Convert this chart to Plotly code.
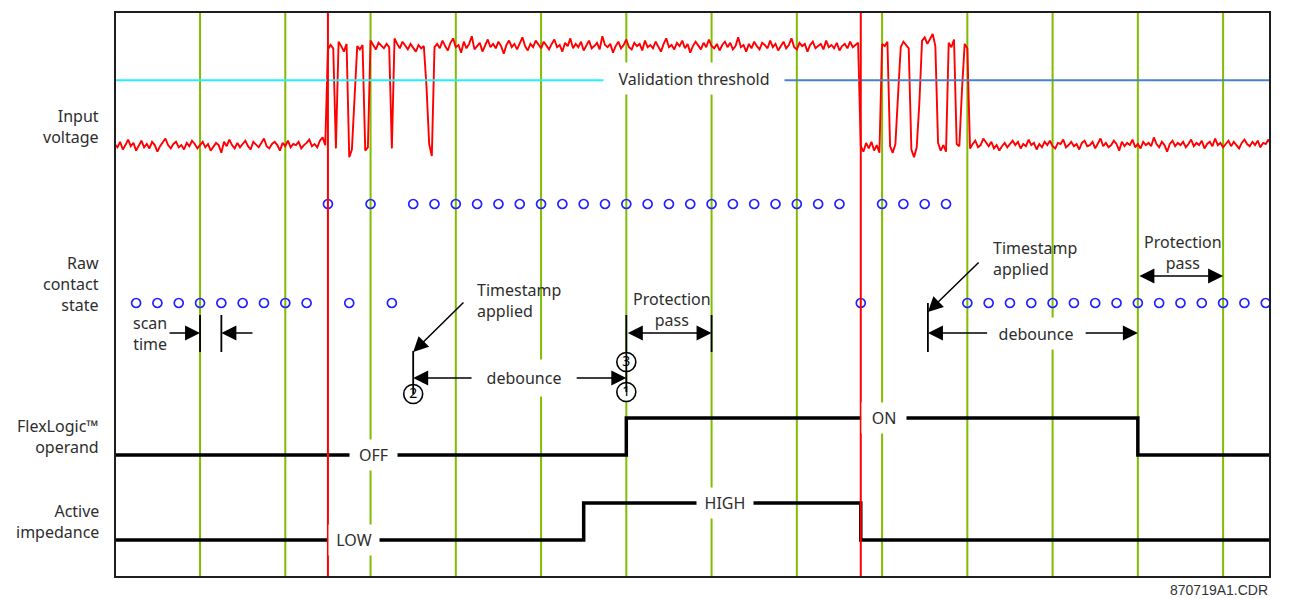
import plotly.graph_objects as go

# ---------------- data ----------------
# x unit: one contact scan (spacing of the blue sample dots)
X_MIN, X_MAX = 0.01, 54.2

scan_times = list(range(55))
raw_contact_state = [0, 0, 0, 0, 0, 0, 0, 0, 0, 0,
                     1, 0, 1, 0,
                     1, 1, 1, 1, 1, 1, 1, 1, 1, 1, 1, 1, 1, 1, 1, 1, 1, 1, 1, 1, 1,
                     0,
                     1, 1, 1, 1,
                     0, 0, 0, 0, 0, 0, 0, 0, 0, 0, 0, 0, 0, 0, 0]

protection_pass_times = [4, 8, 12, 16, 20, 24, 28, 32, 36, 40, 44, 48, 52]
voltage_change_times = [10, 35]

flexlogic_times = [0, 24, 48, 54.2]
flexlogic_state = [0, 1, 0, 0]
impedance_times = [0, 22, 35, 54.2]
impedance_state = [0, 1, 0, 0]

timestamp_times = [14, 38.15]
debounce_end_times = [24, 48]
scan_time_marks = [4, 5]

# input voltage (V), sampled every 1/8 scan
voltage_t0 = 0.0
voltage_dt = 0.125
voltage_low_before = [10, 7, 12, 5, 9, 14, 8, 11, 4, 9, 13, 7, 10, 6, 12, 9, 3, 8, 11, 15,
                      9, 6, 10, 12, 7, 9, 5, 11, 8, 13, 10, 6, 9, 12, 7, 10, 4, 8, 11, 9,
                      2, 12, 8, 14, 9, 6, 11, 7, 10, 13, 8, 5, 12, 9, 7, 11, 15, 8, 6, 10,
                      12, 9, 4, 11, 8, 13, 7, 10, 9, 12, 6, 9, 11, 14, 8, 10, 7, 13, 16, 9]
voltage_bounce_on = [96, 100, 97, 6, 103, 99, 94, 101, -2, 5, 52, 99, 96, 100, 4, 7,
                     104, 100, 96, 102, 99, 97, 101, 98, 6, 106, 101, 97, 103, 99, 96,
                     101, 98, 94, 100, 97, 99, 62, 10, -1, 98]
voltage_high = [101, 97, 104, 99, 95, 102, 106, 98, 100, 93, 103, 97, 101, 108, 96, 99, 102, 94, 100, 105,
                98, 101, 97, 103, 99, 92, 100, 104, 98, 101, 96, 102, 107, 99, 95, 101, 98, 104, 100, 97,
                103, 99, 96, 101, 105, 98, 100, 94, 102, 99, 106, 97, 101, 98, 103, 95, 100, 104, 97, 99,
                102, 96, 108, 100, 98, 101, 93, 99, 103, 97, 100, 105, 98, 96, 102, 99, 101, 95, 104, 98,
                100, 97, 103, 99, 94, 101, 106, 98, 100, 96, 102, 99, 104, 97, 101, 93, 99, 103, 100, 96,
                102, 98, 105, 99, 97, 101, 95, 100, 103, 98, 102, 96, 99, 107, 98, 100, 94, 101, 97, 103,
                99, 96, 102, 100, 97, 104, 98, 101, 95, 99, 103, 97, 100, 106, 98, 96, 102, 99, 101, 94,
                100, 103, 97, 99, 101, 96, 104, 98, 100, 97, 102, 95, 99, 101, 97, 103, 98, 100, 102]
voltage_bounce_off = [8, 3, 11, 6, 12, 4, 9, 2, 101, 99, 103, 8, 2, 10, 55, 98, 103, 100, 97,
                      5, -2, 7, 48, 104, 107, 101, 105, 110, 99, 11, 4, 9, 3, 102, 98, 105,
                      10, 8, 60, 101, 97]
voltage_low_after = [6, 10, 13, 7, 9, 15, 11, 8, 12, 6, 9, 4, 8, 11, 7, 10, 13, 9, 12, 6,
                     10, 8, 14, 9, 11, 5, 10, 7, 12, 9, 13, 8, 6, 11, 10, 14, 7, 9, 12, 8,
                     10, 5, 11, 13, 8, 9, 12, 6, 10, 15, 8, 11, 7, 9, 13, 10, 4, 12, 8, 11,
                     9, 14, 7, 10, 6, 12, 9, 11, 8, 16, 10, 7, 12, 9, 3, 10, 13, 8, 11, 9,
                     12, 7, 10, 14, 8, 11, 9, 13, 6, 10, 12, 8, 15, 9, 11, 7, 10, 13, 8, 12,
                     9, 6, 11, 14, 10, 8, 12, 9, 13, 7, 11, 10, 14, 9, 12]
validation_threshold = 68

# ---------------- styling ----------------
FONT = "Noto Sans"
TXT = "#2e2e2e"
GREEN = "#80bd00"
RED = "#ff0000"
BLUE_DOT = "#2222ff"
CYAN = "#22f0ff"
BLUE_LINE = "#4a82cc"

# lanes in diagram units (0 = bottom of frame, 565 = top)
CONTACT_Y = {0: 274, 1: 373}
FLEX_Y = {0: 122, 1: 159}
IMP_Y = {0: 37, 1: 74}

voltage = voltage_low_before + voltage_bounce_on + voltage_high + voltage_bounce_off + voltage_low_after
voltage_t = [voltage_t0 + i * voltage_dt for i in range(len(voltage))]

fig = go.Figure()

# input voltage
fig.add_trace(go.Scatter(x=voltage_t, y=voltage, mode="lines", yaxis="y2",
                         line=dict(color=RED, width=1.9), hoverinfo="skip"))
# validation threshold (cyan before / blue after the label)
thr_split = 27.18
fig.add_trace(go.Scatter(x=[X_MIN, thr_split], y=[validation_threshold] * 2, yaxis="y2", mode="lines",
                         line=dict(color=CYAN, width=2)))
fig.add_trace(go.Scatter(x=[thr_split, X_MAX], y=[validation_threshold] * 2, yaxis="y2", mode="lines",
                         line=dict(color=BLUE_LINE, width=2)))

# raw contact state samples
fig.add_trace(go.Scatter(x=scan_times, y=[CONTACT_Y[s] for s in raw_contact_state], mode="markers",
                         marker=dict(symbol="circle-open", size=9, color=BLUE_DOT, line=dict(width=1.7)),
                         cliponaxis=False))

# FlexLogic operand and active impedance
fig.add_trace(go.Scatter(x=flexlogic_times, y=[FLEX_Y[s] for s in flexlogic_state], mode="lines",
                         line=dict(color="black", width=3.5, shape="hv")))
fig.add_trace(go.Scatter(x=impedance_times, y=[IMP_Y[s] for s in impedance_state], mode="lines",
                         line=dict(color="black", width=3.5, shape="hv")))

shapes = []
for t in protection_pass_times:
    shapes.append(dict(type="line", xref="x", yref="paper", x0=t, x1=t, y0=0, y1=1,
                       line=dict(color=GREEN, width=2), layer="below"))
for t in voltage_change_times:
    shapes.append(dict(type="line", xref="x", yref="paper", x0=t, x1=t, y0=0, y1=1,
                       line=dict(color=RED, width=2), layer="above"))

def vbar(x, y0, y1, w=1.8):
    shapes.append(dict(type="line", xref="x", yref="y", x0=x, x1=x, y0=y0, y1=y1,
                       line=dict(color="black", width=w), layer="above"))

for t in scan_time_marks:
    vbar(t, 225, 262)
vbar(timestamp_times[0], 183, 226)
vbar(timestamp_times[1], 225, 274)
vbar(debounce_end_times[0], 185, 262)
vbar(debounce_end_times[0] + 4, 225, 262)

shapes.append(dict(type="rect", xref="paper", yref="paper", x0=0, x1=1, y0=0, y1=1,
                   line=dict(color="#1e1e1e", width=2), layer="above"))

# numbered circles
fig.add_trace(go.Scatter(x=[timestamp_times[0], debounce_end_times[0], debounce_end_times[0]],
                         y=[183, 215, 185], mode="markers+text", text=["2", "3", "1"],
                         textposition="middle center",
                         textfont=dict(family=FONT, size=14, color="black"),
                         marker=dict(size=19, color="white", line=dict(color="black", width=1.6)),
                         cliponaxis=False))

ann = []

def arrow(xh, yh, xt, yt, both=False):
    ann.append(dict(x=xh, y=yh, ax=xt, ay=yt, xref="x", yref="y", axref="x", ayref="y",
                    text="", showarrow=True, arrowhead=2, arrowsize=2.0, arrowwidth=1.5,
                    arrowcolor="black", arrowside="end+start" if both else "end"))

def label(x, y, text, xanchor="center", align="center", bg=None, w=None, h=None, size=16,
          xref="x", yref="y"):
    d = dict(x=x, y=y, xref=xref, yref=yref, text=text, showarrow=False, xanchor=xanchor,
             yanchor="middle", align=align, font=dict(family=FONT, size=size, color=TXT),
             borderpad=0)
    if bg:
        d["bgcolor"] = bg
    if w:
        d["width"] = w
    if h:
        d["height"] = h
    ann.append(d)

# scan time
arrow(scan_time_marks[0], 244, 2.5, 244)
arrow(scan_time_marks[1], 244, 6.53, 244)
label(1.66, 244, "scan<br>time")
# timestamps
arrow(timestamp_times[0], 225, 16.43, 276)
label(16.95, 277, "Timestamp<br>applied", xanchor="left", align="left")
arrow(timestamp_times[1], 265, 40.6, 316)
label(41.16, 319, "Timestamp<br>applied", xanchor="left", align="left")
# debounce
arrow(timestamp_times[0], 199, 16.81, 199)
arrow(debounce_end_times[0], 199, 21.6, 199)
label(19.2, 199, "debounce", bg="white", w=102, h=36)
arrow(timestamp_times[1], 244, 41.0, 244)
arrow(debounce_end_times[1], 244, 45.48, 244)
label(43.24, 244, "debounce", bg="white", w=96, h=31)
# protection pass
arrow(debounce_end_times[0] + 4, 244, debounce_end_times[0], 244, both=True)
label(26.15, 268, "Protection<br>pass")
arrow(debounce_end_times[1] + 4, 301, debounce_end_times[1], 301, both=True)
label(50.1, 325, "Protection<br>pass")
# state labels
label(12.16, FLEX_Y[0], "OFF", bg="white", w=47, h=30)
label(36.1, FLEX_Y[1], "ON", bg="white", w=44, h=30)
label(11.2, IMP_Y[0], "LOW", bg="white", w=50, h=30)
label(28.63, IMP_Y[1], "HIGH", bg="white", w=56, h=30)
label(thr_split, 69.5, "Validation threshold", bg="white", w=180, h=31, yref="y2")
# row titles
for yy, txt in [(451, "Input<br>voltage"), (293, "Raw<br>contact<br>state"),
                (141, "FlexLogic™<br>operand"), (56, "Active<br>impedance")]:
    label(-0.013, yy, txt, xanchor="right", align="right", xref="paper")
# drawing number
ann.append(dict(x=0.956, y=-0.023, xref="paper", yref="paper", text="870719A1.CDR",
                showarrow=False, xanchor="center", yanchor="middle",
                font=dict(family="Liberation Sans Narrow, Arial Narrow, sans-serif", size=14, color="#333")))

fig.update_layout(
    width=1289, height=598, autosize=False,
    margin=dict(l=115, r=19, t=12, b=21),
    paper_bgcolor="white", plot_bgcolor="white",
    showlegend=False,
    xaxis=dict(range=[X_MIN, X_MAX], visible=False, fixedrange=True),
    yaxis=dict(range=[0, 565], visible=False, fixedrange=True),
    yaxis2=dict(range=[-383.64, 130], overlaying="y", visible=False, fixedrange=True),
    shapes=shapes, annotations=ann,
)

fig.write_html("out.html", config={"displayModeBar": False},
               post_script="document.body.style.margin='0';document.body.style.overflow='hidden';")
